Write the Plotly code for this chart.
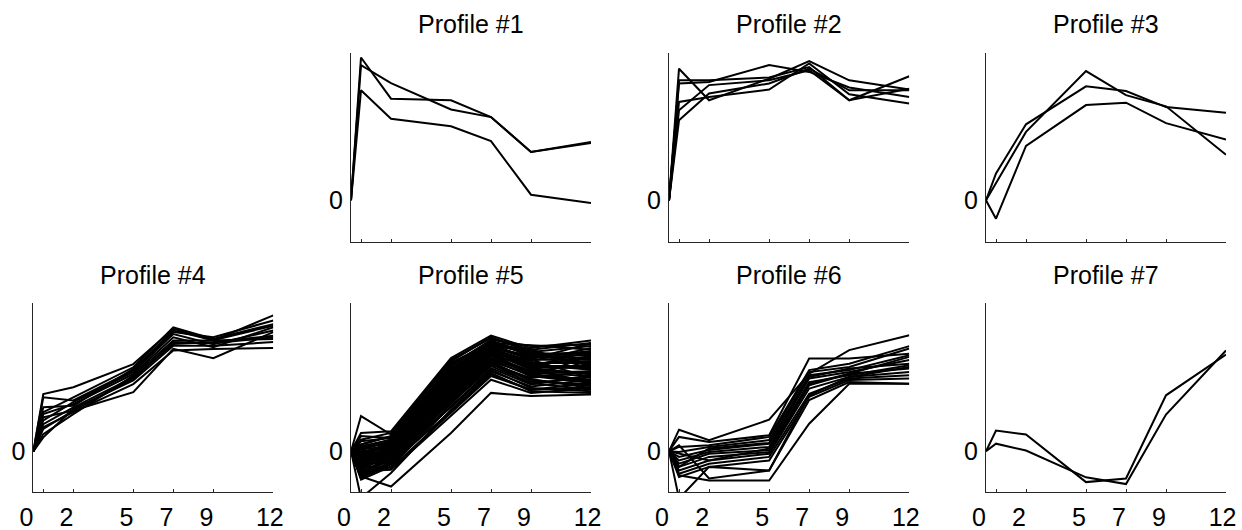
import plotly.graph_objects as go

# time points (hours)
time_points = [0, 0.5, 2, 5, 7, 9, 12]
tick_vals = [0, 0.5, 2, 5, 7, 9, 12]
tick_text = ["0", "", "2", "5", "7", "9", "12"]
titles = ["Profile #1", "Profile #2", "Profile #3", "Profile #4", "Profile #5", "Profile #6", "Profile #7"]

# values (relative expression, arbitrary units) at time points 0.5..12 (time 0 is 0)
profile1 = [
    [3.57, 2.54, 2.50, 2.08, 1.21, 1.46],
    [3.38, 2.93, 2.27, 2.08, 1.21, 1.43],
    [2.75, 2.04, 1.85, 1.48, 0.14, -0.07],
]
profile2 = [
    [3.29, 2.50, 3.04, 3.48, 3.00, 2.77],
    [3.00, 3.00, 3.07, 3.33, 2.50, 3.10],
    [2.92, 2.96, 3.38, 3.21, 2.82, 2.58],
    [2.46, 2.58, 2.77, 3.42, 2.65, 2.42],
    [2.25, 2.88, 3.00, 3.25, 2.50, 2.79],
    [2.00, 2.67, 2.92, 3.29, 2.75, 2.75],
]
profile3 = [
    [-0.46, 1.36, 2.38, 2.44, 1.93, 1.52],
    [0.42, 1.71, 3.23, 2.63, 2.35, 1.14],
    [0.67, 1.90, 2.85, 2.73, 2.33, 2.19],
]
profile4 = [
    [1.43, 1.60, 2.18, 3.06, 2.77, 3.40],
    [1.35, 1.27, 2.02, 2.98, 2.85, 3.27],
    [0.98, 1.35, 2.10, 3.10, 2.81, 3.18],
    [0.93, 1.18, 1.93, 2.85, 2.60, 3.10],
    [0.85, 1.02, 1.48, 2.56, 2.33, 2.98],
    [0.68, 1.10, 1.85, 2.68, 2.73, 2.89],
    [0.60, 0.98, 1.68, 2.52, 2.56, 2.58],
    [0.43, 0.93, 1.89, 2.77, 2.77, 2.81],
    [0.35, 1.06, 1.77, 2.64, 2.64, 2.73],
    [0.77, 1.23, 1.98, 2.93, 2.68, 3.02],
    [1.10, 1.14, 2.06, 3.02, 2.78, 3.14],
    [0.56, 1.02, 1.81, 2.73, 2.70, 2.85],
]
profile5 = [
    [0.88, 0.42, 2.29, 2.83, 2.54, 2.71],
    [0.46, 0.50, 2.33, 2.89, 2.58, 2.77],
    [0.29, 0.46, 2.21, 2.71, 2.65, 2.54],
    [0.17, 0.38, 2.13, 2.75, 2.38, 2.50],
    [0.13, 0.29, 2.04, 2.67, 2.46, 2.38],
    [0.04, 0.25, 1.96, 2.63, 2.29, 2.29],
    [-0.04, 0.21, 1.88, 2.58, 2.21, 2.21],
    [-0.13, 0.17, 1.83, 2.54, 2.13, 2.13],
    [-0.21, 0.13, 1.75, 2.50, 2.17, 2.04],
    [-0.29, 0.04, 1.67, 2.46, 2.04, 1.96],
    [-0.38, 0.00, 1.58, 2.42, 1.96, 1.88],
    [-0.46, -0.04, 1.50, 2.38, 1.92, 1.79],
    [-0.54, -0.13, 1.42, 2.29, 1.88, 1.71],
    [-0.21, -0.21, 1.33, 2.21, 1.79, 1.63],
    [-0.63, -0.29, 1.25, 2.13, 1.71, 1.54],
    [-0.71, -0.38, 1.13, 2.04, 1.58, 1.50],
    [-1.17, -0.54, 1.04, 1.96, 1.50, 1.46],
    [-0.63, -0.88, 0.46, 1.46, 1.38, 1.42],
    [-0.50, -0.46, 0.88, 1.79, 1.46, 1.58],
    [-0.38, -0.42, 0.96, 1.88, 1.54, 1.71],
    [0.00, 0.08, 1.92, 2.60, 2.33, 2.42],
    [0.25, 0.33, 2.08, 2.71, 2.42, 2.29],
    [-0.13, 0.25, 2.00, 2.64, 2.50, 2.13],
    [-0.29, 0.13, 1.79, 2.56, 2.25, 2.58],
    [-0.42, -0.08, 1.63, 2.53, 2.08, 1.92],
    [-0.58, -0.21, 1.46, 2.38, 2.00, 2.17],
    [0.38, 0.33, 2.14, 2.79, 2.63, 2.67],
    [-0.21, 0.00, 1.54, 2.44, 2.29, 1.83],
    [-0.67, -0.33, 1.17, 2.19, 1.83, 2.00],
    [-0.04, -0.21, 1.38, 2.25, 1.75, 1.67],
    [0.08, 0.29, 2.17, 2.77, 2.44, 2.46],
    [-0.08, 0.19, 1.92, 2.62, 2.36, 2.33],
    [-0.17, 0.10, 1.71, 2.48, 2.20, 2.25],
    [-0.33, 0.06, 1.62, 2.44, 2.10, 2.08],
    [-0.46, -0.10, 1.46, 2.33, 1.96, 2.00],
    [-0.54, -0.17, 1.37, 2.26, 1.90, 1.75],
    [-0.67, -0.25, 1.29, 2.17, 1.80, 1.58],
    [-0.25, -0.04, 1.21, 2.08, 1.67, 1.90],
    [0.17, 0.38, 2.25, 2.85, 2.48, 2.63],
    [-0.08, 0.02, 1.85, 2.52, 2.13, 2.38],
    [-0.38, -0.15, 1.10, 2.00, 1.62, 1.79],
    [-0.29, -0.30, 1.00, 1.92, 1.54, 1.60],
    [0.10, 0.20, 2.05, 2.68, 2.30, 2.70],
    [-0.15, 0.05, 1.80, 2.57, 2.40, 2.20],
    [-0.35, -0.05, 1.55, 2.40, 2.12, 2.50],
    [-0.50, -0.20, 1.40, 2.30, 1.98, 1.95],
    [0.05, 0.12, 1.95, 2.66, 2.55, 2.05],
    [-0.25, 0.08, 1.70, 2.50, 1.85, 2.40],
    [-0.60, -0.28, 1.30, 2.20, 1.70, 1.85],
    [-0.10, 0.15, 1.88, 2.60, 2.05, 1.72],
]
profile6 = [
    [0.54, 0.28, 0.79, 1.94, 2.53, 2.90],
    [0.36, 0.23, 0.40, 2.32, 2.32, 2.44],
    [0.11, 0.15, 0.36, 2.03, 2.19, 2.63],
    [-0.02, 0.11, 0.28, 1.98, 2.11, 2.57],
    [-0.14, 0.03, 0.19, 1.90, 2.03, 2.40],
    [-0.23, -0.02, 0.11, 1.82, 1.98, 2.28],
    [-0.31, -0.06, 0.03, 1.73, 1.90, 2.15],
    [-0.39, -0.14, -0.02, 1.65, 1.94, 2.07],
    [-0.48, -0.23, -0.06, 1.57, 1.86, 1.98],
    [-0.56, -0.31, -0.14, 1.44, 1.82, 1.90],
    [-0.64, -0.39, -0.23, 1.36, 1.78, 1.82],
    [-1.18, -0.39, -0.48, 1.28, 1.73, 1.69],
    [-0.60, -0.73, -0.73, 0.69, 1.69, 1.69],
    [0.15, -0.68, -0.48, 1.40, 1.86, 2.11],
    [-0.06, -0.23, 0.07, 1.69, 1.94, 2.36],
    [-0.39, 0.07, 0.21, 1.86, 2.07, 2.19],
]
profile7 = [
    [0.52, 0.42, -0.77, -0.68, 1.40, 2.42],
    [0.19, 0.02, -0.65, -0.82, 0.92, 2.52],
]
profiles = [profile1, profile2, profile3, profile4, profile5, profile6, profile7]

W, H = 1242, 530
col_px = [(33.3, 273.3), (351, 591), (669, 909.3), (986, 1226)]
row_px = [(53.3, 242.3), (303.3, 492.3)]
row_range = [[-1.05, 3.675], [-1.025, 3.7]]
panel_cells = [(0, 1), (0, 2), (0, 3), (1, 0), (1, 1), (1, 2), (1, 3)]
title_y_px = [23.5, 274.5]

font_family = "Liberation Sans, Arial, Helvetica, sans-serif"
axis_color = "#262626"
fsize = 25
NB = "\u00a0"
# labels sit slightly left of their ticks in the reference
shown_ticktext = [t + (NB if len(t) > 1 else NB * 2) if t else t for t in tick_text]

fig = go.Figure()
for i, (prof, (r, c)) in enumerate(zip(profiles, panel_cells)):
    n = i + 1
    xa = "x" if n == 1 else f"x{n}"
    ya = "y" if n == 1 else f"y{n}"
    for series in prof:
        fig.add_trace(go.Scatter(
            x=time_points, y=[0] + series, mode="lines",
            line=dict(color="black", width=2),
            xaxis=xa, yaxis=ya, showlegend=False, hoverinfo="skip",
        ))
    x0, x1 = col_px[c]
    y0, y1 = row_px[r]
    xkey = "xaxis" if n == 1 else f"xaxis{n}"
    ykey = "yaxis" if n == 1 else f"yaxis{n}"
    fig.update_layout(**{
        xkey: dict(
            domain=[x0 / W, x1 / W], anchor=ya, range=[0, 12],
            showline=True, linecolor=axis_color, linewidth=1,
            showgrid=False, zeroline=False, automargin=False,
            ticks="inside", ticklen=3, tickcolor=axis_color, tickwidth=1,
            tickvals=tick_vals, ticktext=shown_ticktext,
            showticklabels=(r == 1), ticklabelstandoff=3,
            ticklabeloverflow="allow",
            tickfont=dict(family=font_family, size=fsize, color="black"),
            fixedrange=True,
        ),
        ykey: dict(
            domain=[1 - y1 / H, 1 - y0 / H], anchor=xa, range=row_range[r],
            showline=True, linecolor=axis_color, linewidth=1,
            showgrid=False, zeroline=False, automargin=False,
            ticks="", tickvals=[0], ticktext=["0"], ticklabelstandoff=2,
            ticklabeloverflow="allow",
            tickfont=dict(family=font_family, size=fsize, color="black"),
            fixedrange=True,
        ),
    })
    fig.add_annotation(
        text=titles[i], xref="paper", yref="paper",
        x=(x0 + x1) / 2 / W, y=1 - title_y_px[r] / H,
        xanchor="center", yanchor="middle", showarrow=False,
        font=dict(family=font_family, size=fsize, color="black"),
    )

fig.update_layout(
    width=W, height=H, margin=dict(l=0, r=0, t=0, b=0, autoexpand=False),
    paper_bgcolor="white", plot_bgcolor="white",
)
fig.write_html(
    "out.html",
    config={"displayModeBar": False},
    post_script="document.body.style.margin='0';document.body.style.overflow='hidden';",
)
